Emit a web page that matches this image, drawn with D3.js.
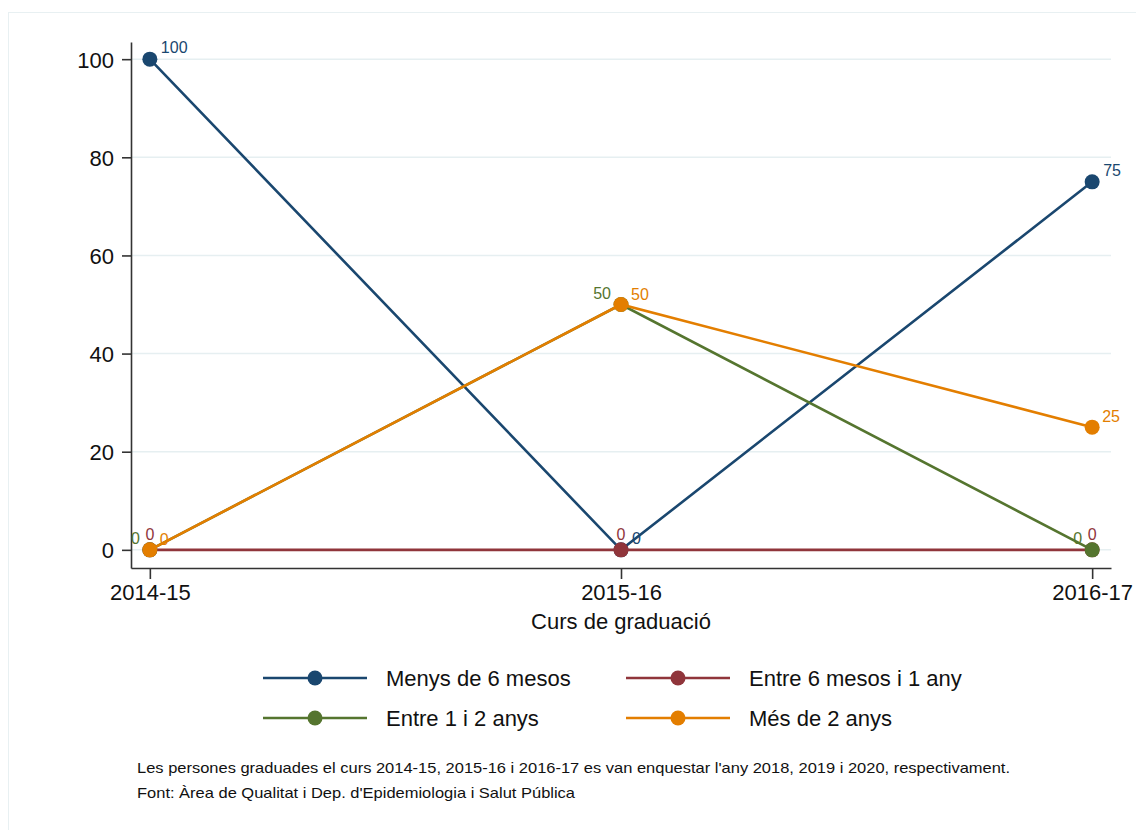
<!DOCTYPE html>
<html><head><meta charset="utf-8">
<script src="https://cdn.jsdelivr.net/npm/d3@7"></script>
<style>body{margin:0;background:#fff}svg{display:block;font-family:"Liberation Sans",Arial,sans-serif}</style>
</head><body>
<svg id="c" width="1136" height="830"></svg>
<script>
const categories = ["2014-15","2015-16","2016-17"];
const seriesNames = ["Menys de 6 mesos","Entre 6 mesos i 1 any","Entre 1 i 2 anys","Més de 2 anys"];
const menys6 = [100, 0, 75];
const entre6m1 = [0, 0, 0];
const entre1i2 = [0, 50, 0];
const mes2 = [0, 50, 25];
const yTicks = [0,20,40,60,80,100];
const xTitle = "Curs de graduació";
const notes = ["Les persones graduades el curs 2014-15, 2015-16 i 2016-17 es van enquestar l'any 2018, 2019 i 2020, respectivament.",
               "Font: Àrea de Qualitat i Dep. d'Epidemiologia i Salut Pública"];

const colors = ["#1a476f","#90353b","#55752f","#e37e00"];
// label placement per series: [dx, dy, anchor]
const labelPos = [[11,-6,"start"],[0,-10,"middle"],[-10,-6,"end"],[10,-5,"start"]];
const series = [menys6, entre6m1, entre1i2, mes2];

const svg = d3.select("#c");
svg.append("rect").attr("x",8.5).attr("y",12.5).attr("width",1140).attr("height",830)
  .attr("fill","none").attr("stroke","#e8f0f2").attr("stroke-width",1);

const x = d3.scaleLinear().domain([-0.04,2.04]).range([131,1111]);
const y = d3.scaleLinear().domain([-3.7,103.5]).range([568,42]);

// gridlines
svg.append("g").selectAll("line").data(yTicks).join("line")
  .attr("x1",132).attr("x2",1111).attr("y1",d=>y(d)).attr("y2",d=>y(d))
  .attr("stroke","#e6eff1").attr("stroke-width",1.5);

const yAxis = svg.append("g").attr("transform","translate(131,0)")
  .call(d3.axisLeft(y).tickValues(yTicks).tickSize(9).tickSizeOuter(0).tickPadding(8));
const xAxis = svg.append("g").attr("transform","translate(0,568)")
  .call(d3.axisBottom(x).tickValues([0,1,2]).tickFormat(i=>categories[i]).tickSize(11).tickSizeOuter(0).tickPadding(5));
[yAxis,xAxis].forEach(a=>{
  a.selectAll("path,line").attr("stroke","#333").attr("stroke-width",1.6);
  a.selectAll("text").attr("font-size",22).attr("fill","#111").attr("font-family","'Liberation Sans',Arial,sans-serif");
});
yAxis.selectAll("text").attr("dy","0.36em");

svg.append("text").attr("x",x(1)).attr("y",629).attr("text-anchor","middle")
  .attr("font-size",22).attr("fill","#111").text(xTitle);

const line = d3.line().x((d,i)=>x(i)).y(d=>y(d));
series.forEach((s,k)=>{
  const g = svg.append("g");
  g.append("path").datum(s).attr("d",line).attr("fill","none").attr("stroke",colors[k]).attr("stroke-width",2.6);
  g.selectAll("circle").data(s).join("circle").attr("cx",(d,i)=>x(i)).attr("cy",d=>y(d)).attr("r",7.5).attr("fill",colors[k]);
});
series.forEach((s,k)=>{
  const p = labelPos[k];
  svg.append("g").selectAll("text").data(s).join("text")
    .attr("x",(d,i)=>x(i)+p[0]).attr("y",d=>y(d)+p[1]).attr("text-anchor",p[2])
    .attr("font-size",16).attr("fill",colors[k]).text(d=>d);
});

// legend
const legX = [263, 626], legY = [678, 718];
seriesNames.forEach((n,k)=>{
  const cx = legX[k%2], cy = legY[Math.floor(k/2)];
  const g = svg.append("g");
  g.append("line").attr("x1",cx).attr("x2",cx+104).attr("y1",cy).attr("y2",cy).attr("stroke",colors[k]).attr("stroke-width",2.6);
  g.append("circle").attr("cx",cx+52).attr("cy",cy).attr("r",7.5).attr("fill",colors[k]);
  g.append("text").attr("x",cx+123).attr("y",cy).attr("dy","0.36em").attr("font-size",22).attr("fill","#111").text(n);
});

// notes
svg.append("text").attr("x",137).attr("y",773).attr("font-size",14.5).attr("fill","#111")
  .attr("textLength",873).attr("lengthAdjust","spacingAndGlyphs").text(notes[0]);
svg.append("text").attr("x",137).attr("y",798).attr("font-size",14.5).attr("fill","#111")
  .attr("textLength",438).attr("lengthAdjust","spacingAndGlyphs").text(notes[1]);
</script>
</body></html>
